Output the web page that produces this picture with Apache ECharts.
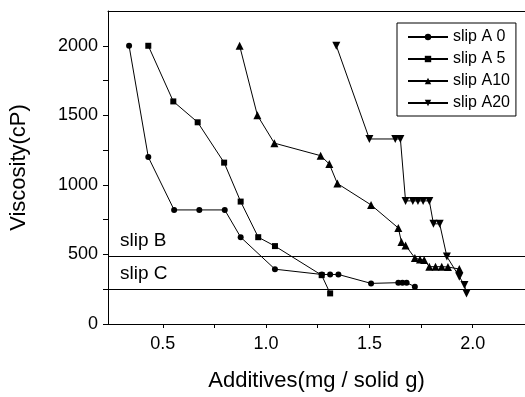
<!DOCTYPE html>
<html>
<head>
<meta charset="utf-8">
<script src="https://cdn.jsdelivr.net/npm/echarts@6/dist/echarts.min.js"></script>
<style>
  html, body { margin: 0; padding: 0; background: #fff; }
  #main { width: 525px; height: 397px; }
</style>
</head>
<body>
<div id="main"></div>
<script>
// values
const a0X = [0.337, 0.43, 0.555, 0.677, 0.80, 0.877, 1.043, 1.27, 1.31, 1.35, 1.508, 1.64, 1.66, 1.68, 1.72];
const a0Y = [2000, 1200, 820, 820, 820, 624, 394, 356, 356, 356, 292, 297, 297, 297, 268];
const a5X = [0.43, 0.551, 0.669, 0.797, 0.877, 0.962, 1.043, 1.269, 1.31];
const a5Y = [2000, 1600, 1450, 1160, 880, 624, 560, 351, 220];
const a10X = [0.872, 0.958, 1.04, 1.264, 1.306, 1.345, 1.508, 1.64, 1.655, 1.675, 1.72, 1.745, 1.765, 1.79, 1.82, 1.85, 1.88, 1.935];
const a10Y = [2000, 1500, 1300, 1210, 1150, 1010, 856, 690, 590, 565, 475, 463, 460, 412, 412, 412, 410, 395];
const a20X = [1.34, 1.50, 1.625, 1.65, 1.675, 1.71, 1.735, 1.76, 1.79, 1.81, 1.84, 1.875, 1.935, 1.96, 1.97];
const a20Y = [2000, 1330, 1330, 1330, 885, 885, 885, 885, 885, 720, 720, 485, 340, 280, 220];
const seriesNames = ['slip A 0', 'slip A 5', 'slip A10', 'slip A20'];
const refNames = ['slip B', 'slip C'];
const refValues = [490, 250];
const xLabelValues = [0.5, 1.0, 1.5, 2.0];
const xTickValues = [0.5, 0.75, 1.0, 1.25, 1.5, 1.75, 2.0];
const yLabelValues = [0, 500, 1000, 1500, 2000];
const yTickValues = [0, 250, 500, 750, 1000, 1250, 1500, 1750, 2000];

const pairs = (xs, ys) => xs.map((x, i) => [x, ys[i]]);
const font = 'Liberation Sans, Arial, sans-serif';

const chart = echarts.init(document.getElementById('main'));

const lineSeries = (name, xs, ys, symbol, size, rotate) => ({
  name: name,
  type: 'line',
  data: pairs(xs, ys),
  symbol: symbol,
  symbolSize: size,
  symbolRotate: rotate || 0,
  lineStyle: { color: '#000', width: 1 },
  itemStyle: { color: '#000' },
  z: 3
});

const option = {
  animation: false,
  backgroundColor: '#fff',
  textStyle: { fontFamily: font, color: '#000' },
  grid: { left: 108, right: 0, top: 11, bottom: 71 },
  legend: {
    orient: 'vertical',
    left: 397,
    top: 23,
    padding: [6, 6, 5, 10],
    itemWidth: 40,
    itemHeight: 8,
    itemGap: 6,
    borderColor: '#000',
    borderWidth: 1,
    data: seriesNames,
    textStyle: { fontSize: 16, color: '#000', fontFamily: font }
  },
  xAxis: [{
    type: 'value',
    min: 0.235,
    max: 2.253,
    name: 'Additives(mg / solid g)',
    nameLocation: 'middle',
    nameGap: 46,
    nameTextStyle: { fontSize: 22, color: '#000', fontFamily: font },
    axisLine: { lineStyle: { color: '#000', width: 1 } },
    axisTick: { length: 4, lineStyle: { color: '#000' }, customValues: xTickValues },
    axisLabel: {
      fontSize: 18, color: '#000', margin: 11,
      customValues: xLabelValues,
      formatter: v => v.toFixed(1)
    },
    splitLine: { show: false }
  }, {
    type: 'value',
    position: 'top',
    min: 0.235,
    max: 2.253,
    axisLine: { show: true, lineStyle: { color: '#000', width: 1 } },
    axisTick: { show: false },
    axisLabel: { show: false },
    splitLine: { show: false }
  }],
  yAxis: {
    type: 'value',
    min: 0,
    max: 2250,
    name: 'Viscosity(cP)',
    nameLocation: 'middle',
    nameGap: 78,
    nameTextStyle: { fontSize: 22, color: '#000', fontFamily: font },
    axisLine: { show: true, lineStyle: { color: '#000', width: 1 } },
    axisTick: { length: 5, lineStyle: { color: '#000' }, customValues: yTickValues },
    axisLabel: {
      fontSize: 18, color: '#000', margin: 10,
      customValues: yLabelValues,
      formatter: v => String(v)
    },
    splitLine: { show: false }
  },
  series: [
    lineSeries(seriesNames[0], a0X, a0Y, 'circle', 6),
    lineSeries(seriesNames[1], a5X, a5Y, 'rect', 6),
    lineSeries(seriesNames[2], a10X, a10Y, 'triangle', 8),
    lineSeries(seriesNames[3], a20X, a20Y, 'triangle', 8, 180),
    {
      name: 'refs',
      type: 'line',
      data: [],
      markLine: {
        silent: true,
        symbol: 'none',
        lineStyle: { color: '#000', width: 1, type: 'solid' },
        label: {
          position: 'insideStartTop',
          formatter: p => p.name,
          fontSize: 19,
          color: '#000',
          fontFamily: font,
          distance: [12, 6]
        },
        data: refValues.map((v, i) => ({ name: refNames[i], yAxis: v }))
      }
    }
  ]
};

chart.setOption(option);
</script>
</body>
</html>
